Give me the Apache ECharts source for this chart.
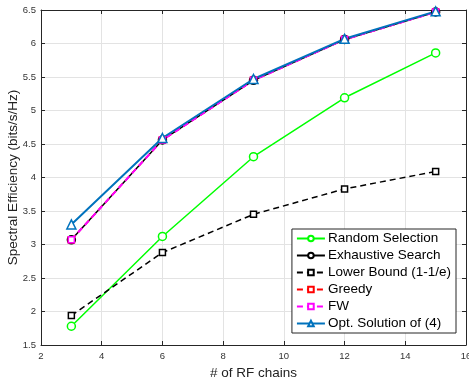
<!DOCTYPE html>
<html>
<head>
<meta charset="utf-8">
<script src="https://cdn.jsdelivr.net/npm/echarts@6/dist/echarts.min.js"></script>
<style>
  html, body { margin: 0; padding: 0; background: #fff; }
  #chart { width: 469px; height: 380px; }
</style>
</head>
<body>
<div id="chart"></div>
<script>
// x values: number of RF chains
const rfChains = [3, 6, 9, 12, 15];
const randomSel = [1.78, 3.12, 4.31, 5.19, 5.86];
const exhaustive = [3.07, 4.56, 5.45, 6.06, 6.47];
const lowerBound = [1.94, 2.88, 3.45, 3.83, 4.09];
const greedy = [3.07, 4.56, 5.45, 6.06, 6.47];
const fw = [3.07, 4.56, 5.45, 6.06, 6.47];
const optSol = [3.30, 4.59, 5.47, 6.07, 6.48];

const pairs = (ys) => rfChains.map((x, i) => [x, ys[i]]);

const chart = echarts.init(document.getElementById("chart"), null, { renderer: "canvas" });
const font = "Liberation Sans";
const axisCol = "#262626";

function mkSeries(name, ys, color, symbol, size, dashed, width) {
  return {
    name: name,
    type: "line",
    data: pairs(ys),
    symbol: symbol,
    symbolSize: size,
    showAllSymbol: true,
    lineStyle: { color: color, width: width, type: dashed ? [6, 4] : "solid" },
    itemStyle: { color: "#fff", borderColor: color, borderWidth: 1.5 },
    emphasis: { disabled: true },
    animation: false,
  };
}

const opt = {
  animation: false,
  textStyle: { fontFamily: font },
  grid: { left: 41, right: 3, top: 10, bottom: 35, containLabel: false, outerBoundsMode: "none" },
  legend: {
    right: 13,
    top: 229,
    orient: "vertical",
    backgroundColor: "#fff",
    borderColor: axisCol,
    borderWidth: 1,
    borderRadius: 0,
    padding: [2, 5, 2, 4],
    itemGap: 2,
    itemWidth: 28,
    itemHeight: 7,
    textStyle: { fontSize: 13.5, lineHeight: 15, color: "#000", fontFamily: font, padding: [0, 0, 0, -2] },
    data: ["Random Selection", "Exhaustive Search", "Lower Bound (1-1/e)", "Greedy", "FW", "Opt. Solution of (4)"],
  },
  xAxis: [
    {
      type: "value", min: 2, max: 16, interval: 2,
      name: "# of RF chains", nameLocation: "middle", nameGap: 21,
      nameTextStyle: { fontSize: 13.5, color: "#222", fontFamily: font },
      axisLine: { lineStyle: { color: axisCol } },
      axisTick: { inside: true, length: 4, lineStyle: { color: axisCol } },
      axisLabel: { fontSize: 9.5, color: "#333", margin: 6 },
      splitLine: { lineStyle: { color: "#e3e3e3" } },
    },
    {
      type: "value", min: 2, max: 16, interval: 2, position: "top",
      axisLine: { lineStyle: { color: axisCol } },
      axisTick: { inside: true, length: 4, lineStyle: { color: axisCol } },
      axisLabel: { show: false }, splitLine: { show: false },
    },
  ],
  yAxis: [
    {
      type: "value", min: 1.5, max: 6.5, interval: 0.5,
      name: "Spectral Efficiency (bits/s/Hz)", nameLocation: "middle", nameGap: 21,
      nameMoveOverlap: false,
      nameTextStyle: { fontSize: 13.5, color: "#222", fontFamily: font },
      axisLine: { show: true, lineStyle: { color: axisCol } },
      axisTick: { show: true, inside: true, length: 4, lineStyle: { color: axisCol } },
      axisLabel: { fontSize: 9.5, color: "#333", margin: 5 },
      splitLine: { lineStyle: { color: "#e3e3e3" } },
    },
    {
      type: "value", min: 1.5, max: 6.5, interval: 0.5, position: "right",
      axisLine: { show: true, lineStyle: { color: axisCol } },
      axisTick: { show: true, inside: true, length: 4, lineStyle: { color: axisCol } },
      axisLabel: { show: false }, splitLine: { show: false },
    },
  ],
  series: [
    mkSeries("Random Selection", randomSel, "#00ff00", "circle", 8, false, 1.5),
    mkSeries("Exhaustive Search", exhaustive, "#000000", "circle", 8, false, 1.5),
    mkSeries("Lower Bound (1-1/e)", lowerBound, "#000000", "rect", 6, true, 1.5),
    mkSeries("Greedy", greedy, "#ff0000", "rect", 6, true, 1.5),
    mkSeries("FW", fw, "#ff00ff", "rect", 6, true, 2),
    mkSeries("Opt. Solution of (4)", optSol, "#0072bd", "triangle", 9, false, 2),
  ],
};
chart.setOption(opt);
</script>
</body>
</html>
